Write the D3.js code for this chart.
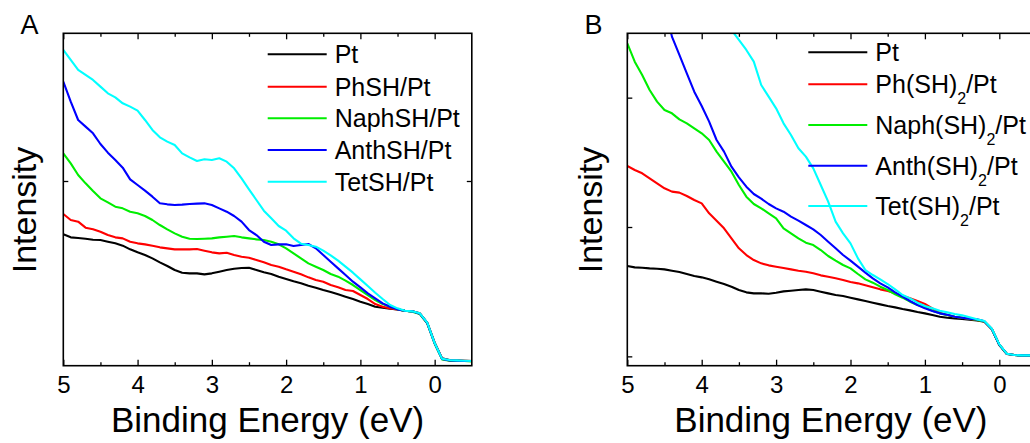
<!DOCTYPE html>
<html>
<head>
<meta charset="utf-8">
<script src="https://cdn.jsdelivr.net/npm/d3@7"></script>
<style>
  body { margin: 0; background: #fff; }
  svg { display: block; font-family: Arial, "Liberation Sans", sans-serif; }
</style>
</head>
<body>
<script>
const width = 1030;
const height = 443;

// binding energy grid (eV)
const energies = [5.0, 4.9, 4.8, 4.7, 4.6, 4.5, 4.4, 4.3, 4.2, 4.1, 4.0, 3.9, 3.8, 3.7, 3.6, 3.5, 3.4, 3.3, 3.2, 3.1,
  3.0, 2.9, 2.8, 2.7, 2.6, 2.5, 2.4, 2.3, 2.2, 2.1, 2.0, 1.9, 1.8, 1.7, 1.6, 1.5, 1.4, 1.3, 1.2, 1.1,
  1.0, 0.9, 0.8, 0.7, 0.6, 0.5, 0.4, 0.3, 0.2, 0.1, 0.0, -0.1, -0.2, -0.3, -0.4, -0.5];
const xTicks = [5, 4, 3, 2, 1, 0];
const xMinorTicks = [4.5, 3.5, 2.5, 1.5, 0.5];

// panel A intensities (arb. units)
const ptA = [394, 385, 383, 381, 378, 377, 372, 367, 360, 349, 340, 332, 322, 310, 299, 287, 279, 277, 277, 274,
  277, 282, 287, 291, 293, 294, 287, 280, 275, 267, 260, 253, 247, 240, 234, 227, 221, 214, 207, 200,
  192, 185, 177, 174, 171, 169, 165, 163, 157, 129, 69, 22, 17, 16, 15, 14];
const phshA = [455, 437, 432, 414, 409, 402, 392, 385, 382, 372, 367, 364, 360, 355, 352, 349, 349, 349, 350, 345,
  340, 337, 339, 332, 327, 324, 317, 310, 302, 297, 289, 282, 274, 265, 257, 252, 242, 235, 227, 224,
  212, 200, 185, 177, 172, 169, 165, 163, 156, 128, 68, 21, 16, 15, 15, 14];
const naphshA = [637, 607, 572, 547, 524, 502, 490, 477, 472, 462, 457, 449, 437, 422, 409, 397, 387, 381, 380, 381,
  382, 385, 387, 389, 385, 382, 379, 377, 372, 364, 352, 337, 322, 307, 297, 287, 275, 267, 255, 242,
  227, 212, 197, 185, 177, 169, 165, 162, 155, 127, 66, 19, 15, 14, 14, 13];
const anthshA = [852, 792, 737, 717, 697, 665, 639, 617, 594, 559, 542, 525, 507, 487, 484, 482, 483, 485, 486, 487,
  482, 472, 462, 449, 432, 407, 392, 372, 362, 364, 364, 359, 362, 365, 352, 332, 312, 292, 272, 252,
  235, 217, 202, 187, 177, 169, 165, 163, 156, 128, 67, 20, 16, 15, 14, 14];
const tetshA = [947, 917, 887, 872, 857, 837, 817, 805, 787, 777, 765, 737, 707, 685, 672, 662, 637, 625, 614, 619,
  617, 622, 612, 592, 562, 529, 497, 465, 442, 419, 405, 382, 366, 362, 357, 345, 331, 315, 297, 279,
  259, 239, 219, 200, 182, 172, 165, 163, 157, 129, 68, 21, 17, 16, 15, 14];

// panel B intensities (arb. units), null = off the top of the frame
const ptB = [299, 295, 294, 292, 291, 289, 285, 281, 275, 269, 265, 259, 252, 245, 237, 227, 220, 217, 217, 216,
  219, 223, 225, 227, 229, 227, 222, 217, 212, 209, 204, 199, 194, 189, 184, 179, 175, 170, 166, 161,
  157, 152, 147, 144, 142, 140, 138, 136, 132, 109, 62, 35, 32, 31, 31, 30];
const phsh2B = [599, 587, 577, 562, 547, 532, 522, 519, 509, 497, 487, 457, 435, 412, 382, 352, 332, 317, 307, 301,
  297, 293, 289, 285, 282, 277, 271, 267, 262, 257, 251, 247, 241, 235, 229, 224, 217, 210, 202, 194,
  185, 172, 159, 152, 147, 144, 140, 137, 133, 110, 63, 36, 32, 31, 31, 30];
const naphsh2B = [967, 912, 872, 827, 792, 767, 757, 739, 727, 712, 697, 677, 642, 612, 582, 542, 507, 485, 472, 457,
  442, 412, 397, 382, 369, 362, 347, 329, 315, 302, 292, 275, 259, 249, 237, 227, 214, 204, 192, 182,
  175, 165, 157, 152, 147, 144, 141, 137, 133, 110, 63, 36, 32, 31, 31, 30];
const anthsh2B = [null, null, null, null, null, 1082, 987, 932, 877, 822, 779, 732, 677, 642, 597, 565, 537, 515, 501, 485,
  472, 462, 447, 435, 422, 409, 392, 372, 352, 332, 315, 297, 279, 262, 247, 235, 220, 207, 194, 182,
  172, 164, 157, 153, 147, 144, 141, 139, 133, 110, 63, 36, 32, 31, 31, 30];
const tetsh2B = [null, null, null, null, null, null, null, null, null, null, null, null, null, null, 1007, 977, 947, 912, 842, 807,
  772, 727, 692, 652, 627, 592, 542, 492, 432, 397, 367, 322, 287, 272, 259, 245, 229, 212, 202, 189,
  179, 172, 165, 160, 155, 151, 145, 139, 134, 111, 64, 36, 32, 31, 31, 30];

const labelsA = ["Pt", "PhSH/Pt", "NaphSH/Pt", "AnthSH/Pt", "TetSH/Pt"];
const labelsB = ["Pt", "Ph(SH)_2/Pt", "Naph(SH)_2/Pt", "Anth(SH)_2/Pt", "Tet(SH)_2/Pt"];
const colors = ["#000000", "#ff0000", "#00ee00", "#0000ff", "#00ffff"];
const yTicksA = [554];
const yTicksB = [28, 416, 804];

const svg = d3.select("body").append("svg")
  .attr("width", width)
  .attr("height", height);

function drawPanel(cfg) {
  const x = d3.scaleLinear().domain([5, -0.5]).range([cfg.left, cfg.right]);
  const y = d3.scaleLinear().domain([0, 997]).range([365.7, 33.3]);
  const g = svg.append("g");

  g.append("clipPath").attr("id", "clip" + cfg.name)
    .append("rect")
    .attr("x", x(5)).attr("y", y(997))
    .attr("width", x(-0.5) - x(5)).attr("height", y(0) - y(997));

  const line = d3.line()
    .defined(d => d[1] != null)
    .x(d => x(d[0]))
    .y(d => y(d[1]));

  // black first, cyan last
  cfg.series.forEach((s, i) => {
    g.append("path")
      .datum(energies.map((e, k) => [e, s[k]]))
      .attr("clip-path", `url(#clip${cfg.name})`)
      .attr("fill", "none")
      .attr("stroke", colors[i])
      .attr("stroke-width", 2.1)
      .attr("stroke-linejoin", "round")
      .attr("d", line);
  });

  // axes, ticks point inward
  const bottom = g.append("g").attr("transform", `translate(0,${y(0)})`)
    .call(d3.axisBottom(x).tickValues(xTicks).tickSize(-6).tickPadding(10).tickFormat(d3.format("d")));
  bottom.selectAll("text").attr("font-size", 24).attr("fill", "#000").attr("font-family", null);
  g.append("g").attr("transform", `translate(0,${y(0)})`)
    .call(d3.axisBottom(x).tickValues(xMinorTicks).tickSize(-3.5).tickFormat(""));
  g.append("g").attr("transform", `translate(0,${y(997)})`)
    .call(d3.axisTop(x).tickValues(xTicks).tickSize(-6).tickFormat(""));
  g.append("g").attr("transform", `translate(0,${y(997)})`)
    .call(d3.axisTop(x).tickValues(xMinorTicks).tickSize(-3.5).tickFormat(""));
  g.append("g").attr("transform", `translate(${x(5)},0)`)
    .call(d3.axisLeft(y).tickValues(cfg.yTicks).tickSize(-5).tickFormat(""));
  g.append("g").attr("transform", `translate(${x(-0.5)},0)`)
    .call(d3.axisRight(y).tickValues(cfg.yTicks).tickSize(-5).tickFormat(""));
  g.selectAll(".domain").remove();
  g.selectAll(".tick line").attr("stroke", "#000").attr("stroke-width", 1.3);

  g.append("rect")
    .attr("x", x(5)).attr("y", y(997))
    .attr("width", x(-0.5) - x(5)).attr("height", y(0) - y(997))
    .attr("fill", "none").attr("stroke", "#000").attr("stroke-width", 1.6);

  // axis titles
  g.append("text")
    .attr("x", (x(5) + x(-0.5)) / 2 + cfg.titleShift).attr("y", 432)
    .attr("text-anchor", "middle").attr("font-size", 35)
    .text("Binding Energy (eV)");
  g.append("text")
    .attr("transform", `translate(${cfg.intensityX},210) rotate(-90)`)
    .attr("text-anchor", "middle").attr("font-size", 34)
    .text("Intensity");
  g.append("text")
    .attr("x", cfg.letterX).attr("y", 33.5)
    .attr("font-size", 27)
    .text(cfg.name);

  // legend
  const leg = g.append("g");
  cfg.labels.forEach((lab, i) => {
    const ly = cfg.legendY[i];
    leg.append("line")
      .attr("x1", cfg.legendX).attr("x2", cfg.legendX + 59)
      .attr("y1", ly).attr("y2", ly)
      .attr("stroke", colors[i]).attr("stroke-width", 2.1);
    const t = leg.append("text")
      .attr("x", cfg.legendX + 67).attr("y", ly + 9)
      .attr("font-size", 25);
    const parts = lab.split("_2");
    if (parts.length === 1) {
      t.text(lab);
    } else {
      t.append("tspan").text(parts[0]);
      t.append("tspan").attr("font-size", 16).attr("dy", 11).text("2");
      t.append("tspan").attr("dy", -11).text(parts[1]);
    }
  });
}

drawPanel({
  name: "A", left: 63.3, right: 471.8,
  series: [ptA, phshA, naphshA, anthshA, tetshA],
  labels: labelsA, yTicks: yTicksA,
  legendX: 267.7, legendY: [54.3, 86.7, 118.3, 150, 181.7],
  titleShift: 0, intensityX: 35.5, letterX: 20.5
});

drawPanel({
  name: "B", left: 627.3, right: 1036.5,
  series: [ptB, phsh2B, naphsh2B, anthsh2B, tetsh2B],
  labels: labelsB, yTicks: yTicksB,
  legendX: 808.3, legendY: [52.3, 84.3, 125, 165.7, 206],
  titleShift: -1, intensityX: 602, letterX: 584.5
});
</script>
</body>
</html>
